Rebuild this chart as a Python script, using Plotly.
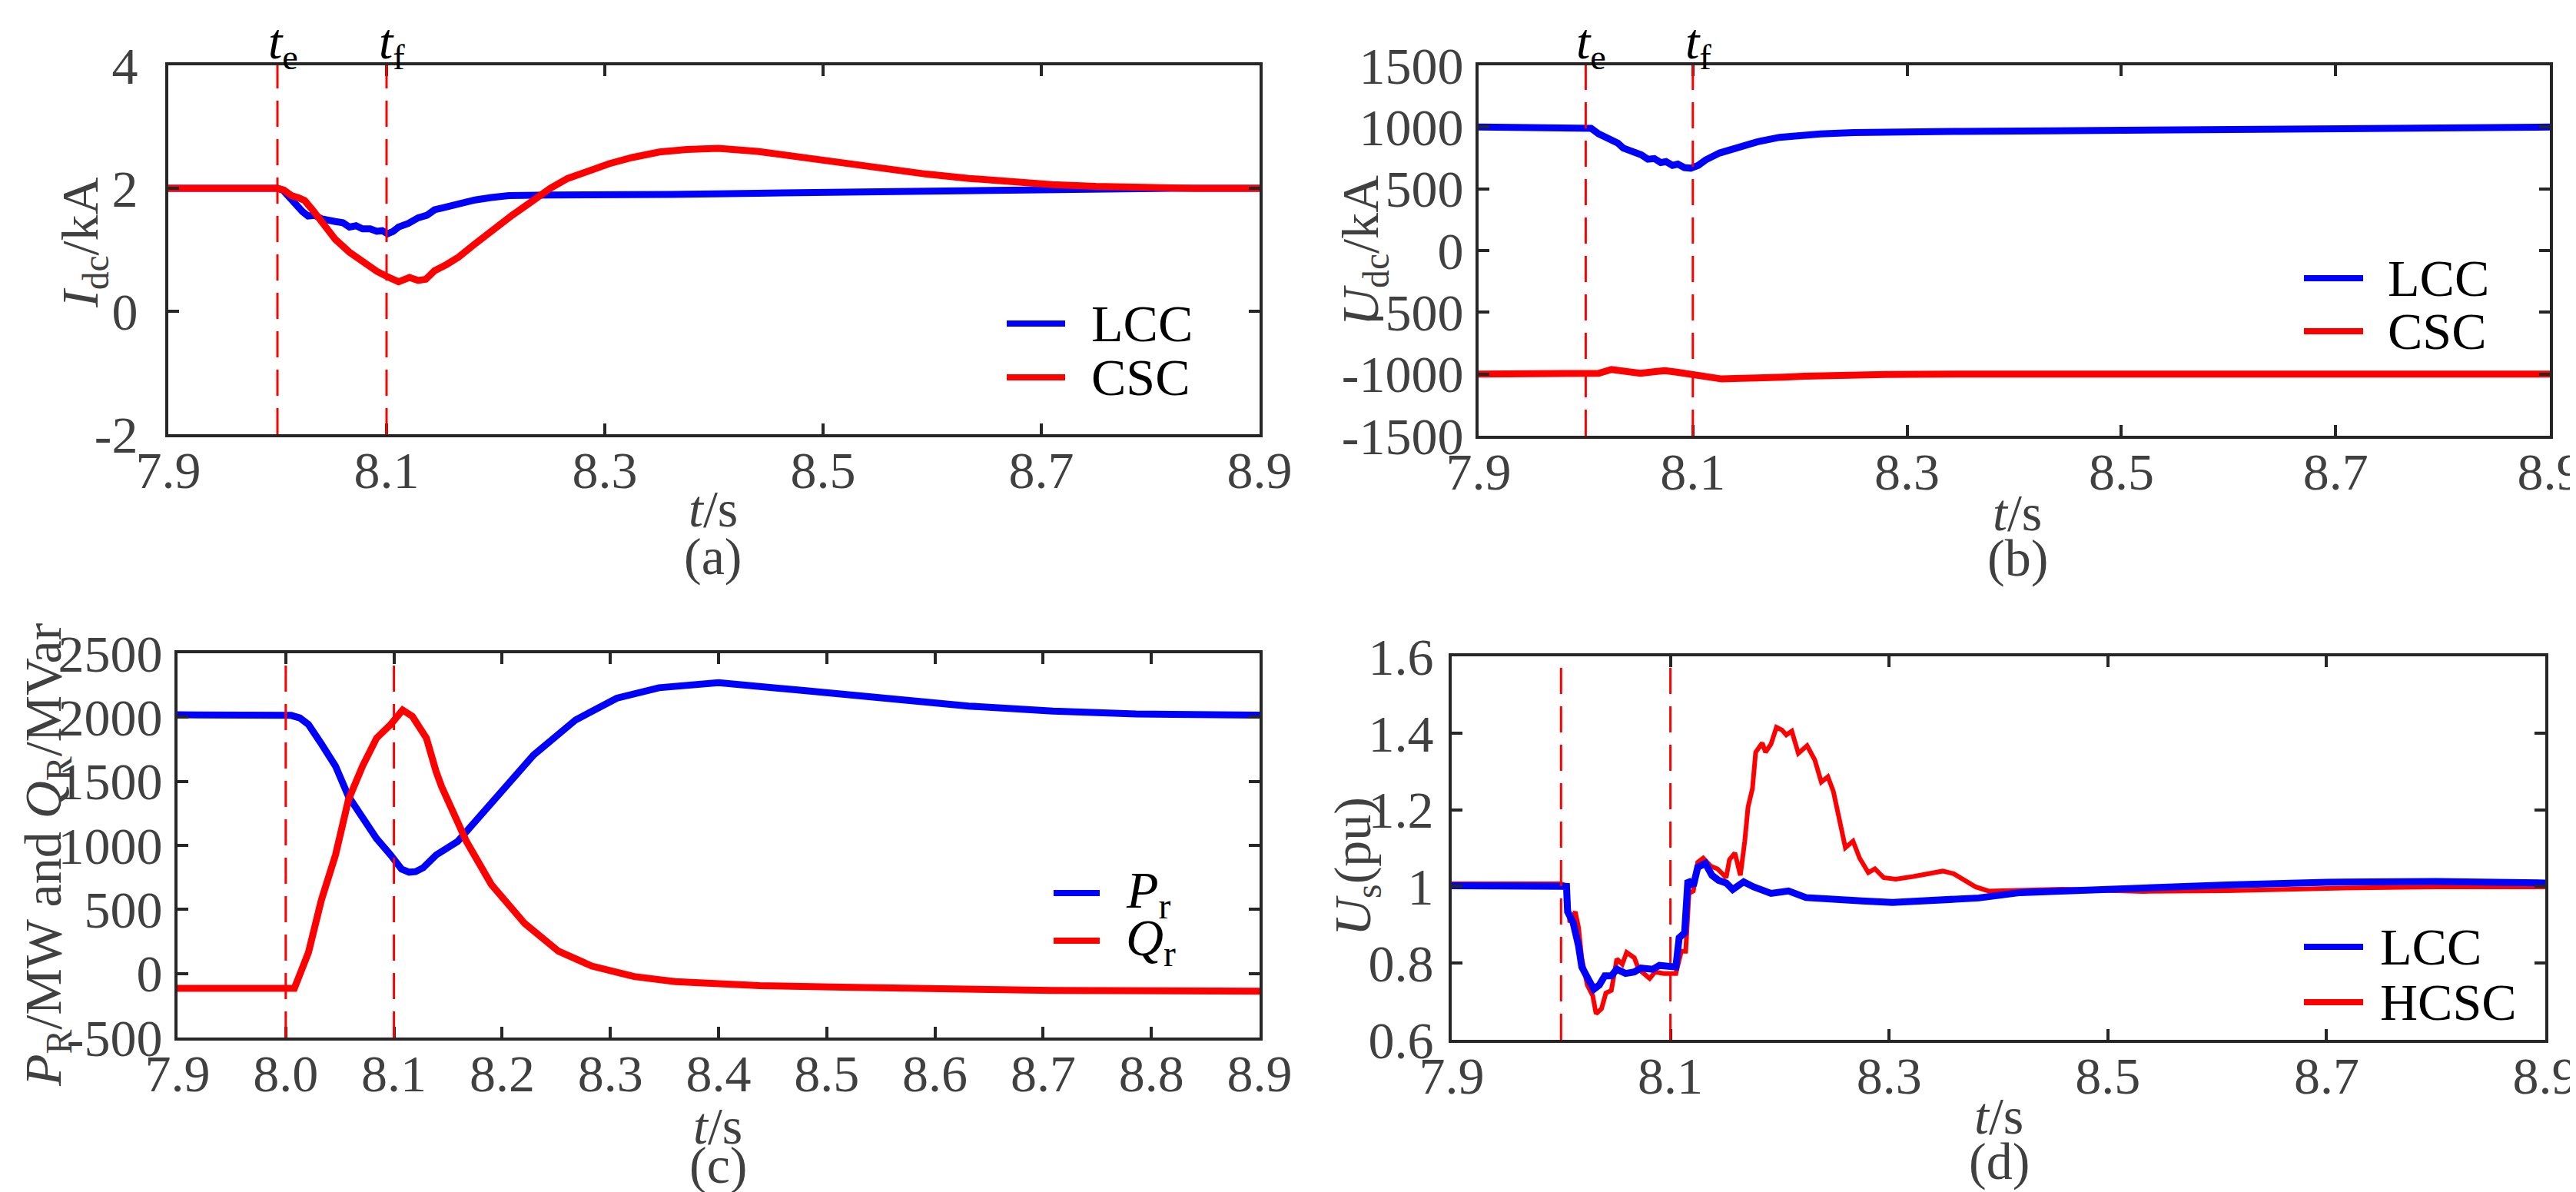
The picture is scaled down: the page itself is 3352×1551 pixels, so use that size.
import plotly.graph_objects as go

W, H = 3352, 1551
FONT = "Liberation Serif, Times New Roman, serif"
GREY = "#404040"
FRAME = "#262626"
BLUE = "#0000ff"
RED = "#ff0000"

# event instants (fault start / clearing)
event_times = [8.0, 8.1]
event_names = ["<i>t</i><sub>e</sub>", "<i>t</i><sub>f</sub>"]

ticks_t_coarse = [7.9, 8.1, 8.3, 8.5, 8.7, 8.9]
ticks_t_fine = [7.9, 8.0, 8.1, 8.2, 8.3, 8.4, 8.5, 8.6, 8.7, 8.8, 8.9]

# (a) DC current, kA
ia_t_lcc = [7.9, 8.0, 8.005, 8.012, 8.018, 8.023, 8.028, 8.034, 8.041, 8.047, 8.053, 8.06,
            8.066, 8.072, 8.078, 8.085, 8.091, 8.096, 8.101, 8.106, 8.111, 8.12, 8.129,
            8.137, 8.144, 8.151, 8.165, 8.181, 8.196, 8.212, 8.25, 8.29, 8.36, 8.44,
            8.52, 8.596, 8.67, 8.75, 8.82, 8.9]
ia_lcc = [2.0, 2.0, 1.97, 1.82, 1.71, 1.62, 1.55, 1.56, 1.5, 1.49, 1.46, 1.44,
          1.37, 1.39, 1.34, 1.34, 1.3, 1.31, 1.26, 1.3, 1.37, 1.43, 1.52,
          1.56, 1.65, 1.68, 1.75, 1.81, 1.85, 1.88, 1.89, 1.89, 1.9, 1.92,
          1.94, 1.96, 1.98, 2.0, 2.0, 2.0]
ia_t_csc = [7.9, 8.0, 8.006, 8.013, 8.02, 8.025, 8.033, 8.043, 8.053, 8.066, 8.078, 8.091,
            8.101, 8.111, 8.121, 8.129, 8.136, 8.144, 8.155, 8.166, 8.18, 8.197, 8.215,
            8.235, 8.25, 8.266, 8.285, 8.304, 8.325, 8.35, 8.375, 8.404, 8.44, 8.48,
            8.52, 8.557, 8.595, 8.634, 8.67, 8.71, 8.75, 8.787, 8.84, 8.9]
ia_csc = [2.0, 2.0, 1.97, 1.88, 1.84, 1.8, 1.63, 1.42, 1.17, 0.96, 0.8, 0.65,
          0.56, 0.48, 0.55, 0.5, 0.52, 0.66, 0.76, 0.88, 1.08, 1.32, 1.56,
          1.81, 2.0, 2.16, 2.29, 2.4, 2.5, 2.59, 2.63, 2.65, 2.6, 2.5,
          2.41, 2.31, 2.23, 2.16, 2.11, 2.06, 2.03, 2.01, 2.0, 2.0]

# (b) DC voltage
ub_t_lcc = [7.9, 8.0, 8.005, 8.012, 8.02, 8.025, 8.03, 8.035, 8.041, 8.046, 8.052, 8.058,
            8.064, 8.07, 8.075, 8.081, 8.086, 8.092, 8.098, 8.105, 8.112, 8.125, 8.143,
            8.16, 8.181, 8.2, 8.219, 8.25, 8.28, 8.35, 8.433, 8.5, 8.586, 8.65, 8.74,
            8.8, 8.9]
ub_lcc = [1000, 1000, 990, 945, 915, 890, 870, 830, 815, 790, 775, 740,
          745, 712, 720, 690, 700, 672, 667, 690, 734, 790, 841,
          880, 917, 935, 945, 955, 960, 965, 969, 975, 982, 990, 997,
          1000, 1000]
ub_t_csc = [7.9, 8.0, 8.012, 8.024, 8.035, 8.051, 8.065, 8.074, 8.085, 8.097, 8.11, 8.127,
            8.145, 8.165, 8.185, 8.204, 8.24, 8.28, 8.357, 8.9]
ub_csc = [-1000, -1000, -994, -963, -975, -994, -980, -972, -985, -1003, -1020, -1040,
          -1035, -1034, -1025, -1018, -1010, -1003, -1000, -1000]

# (c) rectifier active / reactive power
pc_t = [7.9, 8.0, 8.005, 8.013, 8.021, 8.033, 8.046, 8.058, 8.071, 8.084, 8.097, 8.107,
        8.114, 8.12, 8.127, 8.139, 8.159, 8.19, 8.229, 8.268, 8.306, 8.345, 8.4,
        8.477, 8.554, 8.631, 8.709, 8.786, 8.9]
pc_p = [2020, 2020, 2015, 1995, 1944, 1792, 1619, 1382, 1205, 1053, 925, 815,
        791, 795, 825, 925, 1031, 1338, 1705, 1980, 2149, 2231, 2271,
        2210, 2149, 2088, 2048, 2026, 2017]
qc_t = [7.9, 8.0, 8.008, 8.021, 8.033, 8.046, 8.058, 8.071, 8.084, 8.097, 8.108, 8.117,
        8.13, 8.139, 8.144, 8.167, 8.19, 8.221, 8.252, 8.283, 8.322, 8.36, 8.438,
        8.515, 8.593, 8.709, 8.9]
qc_q = [-116, -116, -116, 164, 575, 925, 1357, 1619, 1838, 1944, 2057, 2008,
        1838, 1576, 1460, 1031, 695, 389, 174, 58, -24, -64, -95,
        -107, -116, -132, -138]

# (d) AC bus voltage, pu
ud_t_lcc = [7.9, 8.0, 8.005, 8.006, 8.011, 8.016, 8.019, 8.024, 8.03, 8.035, 8.04, 8.046,
            8.051, 8.059, 8.067, 8.073, 8.084, 8.09, 8.105, 8.108, 8.113, 8.116, 8.121,
            8.125, 8.132, 8.138, 8.144, 8.151, 8.157, 8.167, 8.176, 8.192, 8.208, 8.224,
            8.243, 8.259, 8.275, 8.303, 8.322, 8.338, 8.354, 8.382, 8.42, 8.5, 8.609,
            8.7, 8.8, 8.9]
ud_lcc = [1.002, 1.002, 1.0, 0.934, 0.906, 0.845, 0.79, 0.763, 0.732, 0.743, 0.767, 0.767,
          0.784, 0.773, 0.777, 0.787, 0.784, 0.794, 0.79, 0.866, 0.879, 1.016, 1.002,
          1.05, 1.06, 1.029, 1.016, 1.009, 0.992, 1.012, 0.999, 0.982, 0.988, 0.971,
          0.969, 0.965, 0.962, 0.958, 0.961, 0.96, 0.965, 0.97, 0.984, 0.994, 1.004,
          1.011, 1.013, 1.009]
ud_t_hcsc = [7.9, 8.0, 8.005, 8.008, 8.013, 8.016, 8.019, 8.024, 8.029, 8.032, 8.037, 8.041,
             8.046, 8.051, 8.056, 8.06, 8.067, 8.071, 8.081, 8.086, 8.094, 8.105, 8.11,
             8.114, 8.117, 8.121, 8.125, 8.13, 8.137, 8.143, 8.151, 8.154, 8.159, 8.164,
             8.168, 8.171, 8.175, 8.178, 8.184, 8.187, 8.192, 8.197, 8.202, 8.206, 8.211,
             8.217, 8.225, 8.232, 8.238, 8.244, 8.249, 8.256, 8.26, 8.267, 8.273, 8.281,
             8.287, 8.295, 8.306, 8.322, 8.338, 8.349, 8.359, 8.37, 8.379, 8.391, 8.412,
             8.458, 8.533, 8.609, 8.7, 8.8, 8.9]
ud_hcsc = [1.007, 1.007, 1.002, 0.906, 0.934, 0.893, 0.811, 0.743, 0.715, 0.668, 0.681, 0.722,
           0.729, 0.811, 0.797, 0.828, 0.814, 0.784, 0.76, 0.777, 0.773, 0.773, 0.831,
           0.831, 0.982, 0.988, 1.063, 1.074, 1.053, 1.046, 1.023, 1.07, 1.087, 1.029,
           1.118, 1.207, 1.255, 1.35, 1.374, 1.35, 1.371, 1.415, 1.408, 1.395, 1.405,
           1.347, 1.367, 1.33, 1.272, 1.286, 1.248, 1.159, 1.101, 1.118, 1.074, 1.036,
           1.046, 1.023, 1.019, 1.026, 1.036, 1.04, 1.033, 1.016, 0.999, 0.988, 0.989,
           0.993, 0.987, 0.989, 0.995, 0.999, 0.999]

# plot-area boxes in pixels: left, right, top, bottom
boxes = {
    "a": (211, 1631, 77, 557),
    "b": (1916, 3310, 77, 559),
    "c": (223, 1631, 842, 1342),
    "d": (1881, 3304, 846, 1345),
}


def fx(x):
    return x / W


def fy(y):
    return 1 - y / H


fig = go.Figure()

series = [
    ("a", "x", "y", ia_t_lcc, ia_lcc, BLUE, 9),
    ("a", "x", "y", ia_t_csc, ia_csc, RED, 9),
    ("b", "x2", "y2", ub_t_lcc, ub_lcc, BLUE, 9),
    ("b", "x2", "y2", ub_t_csc, ub_csc, RED, 9),
    ("c", "x3", "y3", pc_t, pc_p, BLUE, 9),
    ("c", "x3", "y3", qc_t, qc_q, RED, 9),
    ("d", "x4", "y4", ud_t_hcsc, ud_hcsc, RED, 6),
    ("d", "x4", "y4", ud_t_lcc, ud_lcc, BLUE, 9),
]
for _, xa, ya, t, v, col, lw in series:
    fig.add_trace(go.Scatter(x=t, y=v, xaxis=xa, yaxis=ya, mode="lines",
                             line=dict(color=col, width=lw), showlegend=False))

# y ticks per panel
yticks = {
    "a": ([-2, 0, 2, 4], ["-2", "0", "2", "4"], [-2, 4], 22),
    "b": ([-1500, -1000, -500, 0, 500, 1000, 1500],
          ["-1500", "-1000", "-500", "0", "500", "1000", "1500"], [-1500, 1500], 2),
    "c": ([-500, 0, 500, 1000, 1500, 2000, 2500],
          ["-500", "0", "500", "1000", "1500", "2000", "2500"], [-500, 2500], 2),
    "d": ([0.6, 0.8, 1.0, 1.2, 1.4, 1.6], ["0.6", "0.8", "1", "1.2", "1.4", "1.6"], [0.6, 1.6], 6),
}
xticks = {"a": ticks_t_coarse, "b": ticks_t_coarse, "c": ticks_t_fine, "d": ticks_t_coarse}

axis_common = dict(showline=True, linewidth=4, linecolor=FRAME, mirror="ticks",
                   ticks="inside", ticklen=14, tickwidth=4, tickcolor=FRAME,
                   showgrid=False, zeroline=False, ticklabeloverflow="allow",
                   tickfont=dict(family=FONT, size=68, color=GREY))

for i, key in enumerate(["a", "b", "c", "d"]):
    l, r, t, b = boxes[key]
    sfx = "" if i == 0 else str(i + 1)
    tv, tt, yr, stand = yticks[key]
    xt = xticks[key]
    fig.layout["xaxis" + sfx] = dict(axis_common, domain=[fx(l), fx(r)], range=[7.9, 8.9],
                                     anchor="y" + sfx, tickvals=xt,
                                     ticktext=["%.1f" % v for v in xt],
                                     ticklabelstandoff=-16)
    fig.layout["yaxis" + sfx] = dict(axis_common, domain=[fy(b), fy(t)], range=yr,
                                     anchor="x" + sfx, tickvals=tv, ticktext=tt,
                                     ticklabelstandoff=stand)
    # dashed event lines
    for et in event_times:
        fig.add_shape(type="line", xref="x" + sfx, yref="y" + sfx + " domain",
                      x0=et, x1=et, y0=0, y1=1,
                      line=dict(color=RED, width=3, dash="34px,16px"))
    if key in ("a", "b"):
        for et, name in zip(event_times, event_names):
            fig.add_annotation(x=et, y=fy(50), xref="x" + sfx, yref="paper",
                               text=name, showarrow=False, xanchor="center", yanchor="middle",
                               xshift=7, font=dict(family=FONT, size=66, color="black"))

# axis titles, sub-figure labels
ytitles = [
    ("<i>I</i><sub>dc</sub>/kA", 100, 308),
    ("<i>U</i><sub>dc</sub>/kA", 1766, 318),
    ("<i>P</i><sub>R</sub>/MW and <i>Q</i><sub>R</sub>/MVar", 52, 1104),
    ("<i>U</i><sub>s</sub>(pu)", 1756, 1120),
]
for txt, x, y in ytitles:
    fig.add_annotation(x=fx(x), y=fy(y), xref="paper", yref="paper", text=txt,
                       textangle=-90, showarrow=False, xanchor="center", yanchor="middle",
                       font=dict(family=FONT, size=68, color=GREY))

xlabels = [
    (920, 654, "(a)", 716),
    (2617, 659, "(b)", 718),
    (926, 1457, "(c)", 1508),
    (2593, 1444, "(d)", 1503),
]
for x, y, lab, ylab in xlabels:
    fig.add_annotation(x=fx(x), y=fy(y), xref="paper", yref="paper", text="<i>t</i>/s",
                       showarrow=False, xanchor="center", yanchor="middle",
                       font=dict(family=FONT, size=68, color=GREY))
    fig.add_annotation(x=fx(x), y=fy(ylab), xref="paper", yref="paper", text=lab,
                       showarrow=False, xanchor="center", yanchor="middle",
                       font=dict(family=FONT, size=68, color=GREY))

# legends: key line start, end, text x, row ys
legends = [
    (1302, 1378, 1410, [(413, "LCC", BLUE), (483, "CSC", RED)]),
    (2990, 3067, 3097, [(354, "LCC", BLUE), (423, "CSC", RED)]),
    (1363, 1423, 1455, [(1154, "<i>P</i><sub>r</sub>", BLUE), (1216, "<i>Q</i><sub>r</sub>", RED)]),
    (2990, 3067, 3087, [(1224, "LCC", BLUE), (1296, "HCSC", RED)]),
]
for x0, x1, xt, rows in legends:
    for y, txt, col in rows:
        fig.add_shape(type="line", xref="paper", yref="paper", x0=fx(x0), x1=fx(x1),
                      y0=fy(y), y1=fy(y), line=dict(color=col, width=8))
        fig.add_annotation(x=fx(xt), y=fy(y), xref="paper", yref="paper", text=txt,
                           showarrow=False, xanchor="left", yanchor="middle",
                           font=dict(family=FONT, size=68, color="black"))

fig.update_layout(width=W, height=H, autosize=False,
                  margin=dict(l=0, r=0, t=0, b=0, pad=0, autoexpand=False),
                  paper_bgcolor="white", plot_bgcolor="white",
                  font=dict(family=FONT))

fig.write_html("out.html")
